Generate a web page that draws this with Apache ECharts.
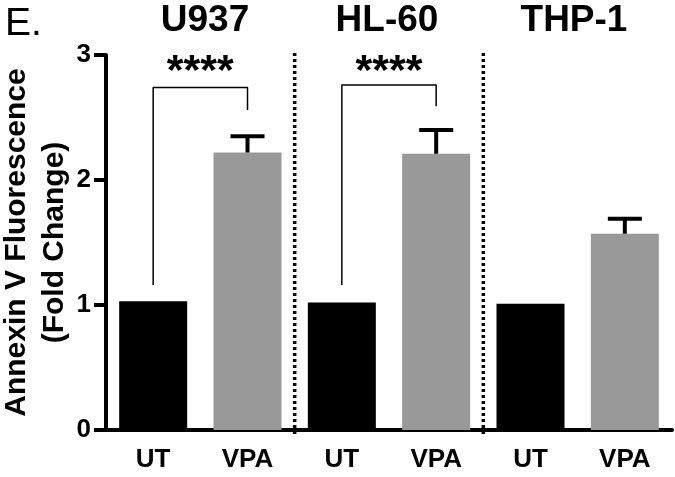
<!DOCTYPE html>
<html>
<head>
<meta charset="utf-8">
<script src="https://cdn.jsdelivr.net/npm/echarts@6/dist/echarts.min.js"></script>
<style>
html,body{margin:0;padding:0;background:#fff;}
#chart{width:675px;height:477px;}
</style>
</head>
<body>
<div id="chart"></div>
<script>
// ---- data ----
const cellLines = ['U937', 'HL-60', 'THP-1'];
const treatments = ['UT', 'VPA'];
const means = [1.03, 2.22, 1.02, 2.21, 1.01, 1.57];
const errTops = [null, 2.35, null, 2.40, null, 1.69];
const yTicks = [0, 1, 2, 3];
const sigLabels = ['****', '****', null];
// bracket: [left leg bottom, top, right leg bottom]
const brackets = [[1.16, 2.74, 2.56], [1.16, 2.76, 2.59], null];
const separators = [1.5, 3.5];
const panelLabel = 'E.';
const yTitle = 'Annexin V Fluorescence\n(Fold Change)';

// ---- derived ----
const cats = [];
cellLines.forEach(c => treatments.forEach(t => cats.push(c + '|' + t)));
const barColors = ['#000000', '#999999'];
const FONT = "'Liberation Sans', Arial, Helvetica, sans-serif";

const chart = echarts.init(document.getElementById('chart'), null, {renderer: 'canvas'});

const bracketSeries = [];
brackets.forEach((b, g) => {
  if (!b) return;
  const x0 = g * 2, x1 = g * 2 + 1;
  bracketSeries.push({
    type: 'line', xAxisIndex: 1, yAxisIndex: 0,
    data: [[x0, b[0]], [x0, b[1]], [x1, b[1]], [x1, b[2]]],
    symbol: 'none', silent: true, animation: false,
    lineStyle: {color: '#000', width: 1.5, opacity: 1}
  });
});

const starData = [];
sigLabels.forEach((s, g) => { if (s) starData.push({value: [g * 2 + 0.5, 2.86], label: {formatter: s}}); });

const option = {
  animation: false,
  grid: {left: 106, right: 3, top: 55, bottom: 47, containLabel: false, outerBoundsMode: 'none'},
  xAxis: [{
    type: 'category', data: cats,
    axisLine: {lineStyle: {color: '#000', width: 4}},
    axisTick: {alignWithLabel: true, length: 12, lineStyle: {color: '#000', width: 4}},
    axisLabel: {
      formatter: v => v.split('|')[1], color: '#000', fontSize: 26, fontWeight: 'bold',
      fontFamily: FONT, margin: 17
    },
    splitLine: {show: false}
  }, {
    type: 'value', min: -0.5, max: 5.5, show: false
  }],
  yAxis: [{
    type: 'value', min: yTicks[0], max: yTicks[yTicks.length - 1], interval: 1,
    name: yTitle, nameLocation: 'middle', nameGap: 32, nameRotate: 90, nameMoveOverlap: false,
    nameTextStyle: {color: '#000', fontSize: 30, fontWeight: 'bold', fontFamily: FONT, lineHeight: 38},
    axisLine: {show: true, onZero: false, lineStyle: {color: '#000', width: 4}},
    axisTick: {show: true, length: 12, lineStyle: {color: '#000', width: 4}},
    axisLabel: {color: '#000', fontSize: 26, fontWeight: 'bold', fontFamily: FONT, margin: 15},
    splitLine: {show: false}
  }],
  graphic: [
    {type: 'text', x: 5, y: 24, style: {text: panelLabel, font: "39px " + FONT, fill: '#000', verticalAlign: 'middle', align: 'left'}},
    {type: 'text', x: 205, y: 21, style: {text: cellLines[0], font: "bold 37px " + FONT, fill: '#000', verticalAlign: 'middle', align: 'center'}},
    {type: 'text', x: 387, y: 21, style: {text: cellLines[1], font: "bold 37px " + FONT, fill: '#000', verticalAlign: 'middle', align: 'center'}},
    {type: 'text', x: 574, y: 21, style: {text: cellLines[2], font: "bold 37px " + FONT, fill: '#000', verticalAlign: 'middle', align: 'center'}}
  ],
  series: [
    {
      type: 'bar', xAxisIndex: 0, yAxisIndex: 0, barWidth: 68,
      data: means.map((v, i) => ({value: v, itemStyle: {color: barColors[i % 2]}}))
    },
    {
      type: 'custom', xAxisIndex: 0, yAxisIndex: 0,
      data: errTops.map((e, i) => e == null ? null : [i, means[i], e]).filter(d => d),
      renderItem: function (params, api) {
        const x = api.value(0), m = api.value(1), e = api.value(2);
        const p1 = api.coord([x, m]), p2 = api.coord([x, e]);
        const st = {stroke: '#000', lineWidth: 4};
        return {type: 'group', children: [
          {type: 'line', shape: {x1: p1[0], y1: p1[1], x2: p2[0], y2: p2[1]}, style: st},
          {type: 'line', shape: {x1: p2[0] - 17, y1: p2[1], x2: p2[0] + 17, y2: p2[1]}, style: st}
        ]};
      },
      z: 5
    },
    {
      type: 'custom', xAxisIndex: 1, yAxisIndex: 0,
      data: separators.map(s => [s]),
      renderItem: function (params, api) {
        const top = api.coord([api.value(0), yTicks[yTicks.length - 1]]);
        const bot = api.coord([api.value(0), yTicks[0]]);
        return {type: 'line', shape: {x1: top[0], y1: top[1] - 2, x2: bot[0], y2: bot[1] + 5},
          style: {stroke: '#000', lineWidth: 3.5, lineDash: [3, 3]}};
      },
      z: 3
    },
    ...bracketSeries,
    {
      type: 'scatter', xAxisIndex: 1, yAxisIndex: 0, symbolSize: 0, data: starData,
      itemStyle: {opacity: 1},
      label: {show: true, position: 'inside', color: '#000', opacity: 1, textBorderWidth: 0, fontSize: 43, fontWeight: 'bold', fontFamily: FONT, verticalAlign: 'middle', align: 'center'}
    }
  ]
};
chart.setOption(option);
</script>
</body>
</html>
